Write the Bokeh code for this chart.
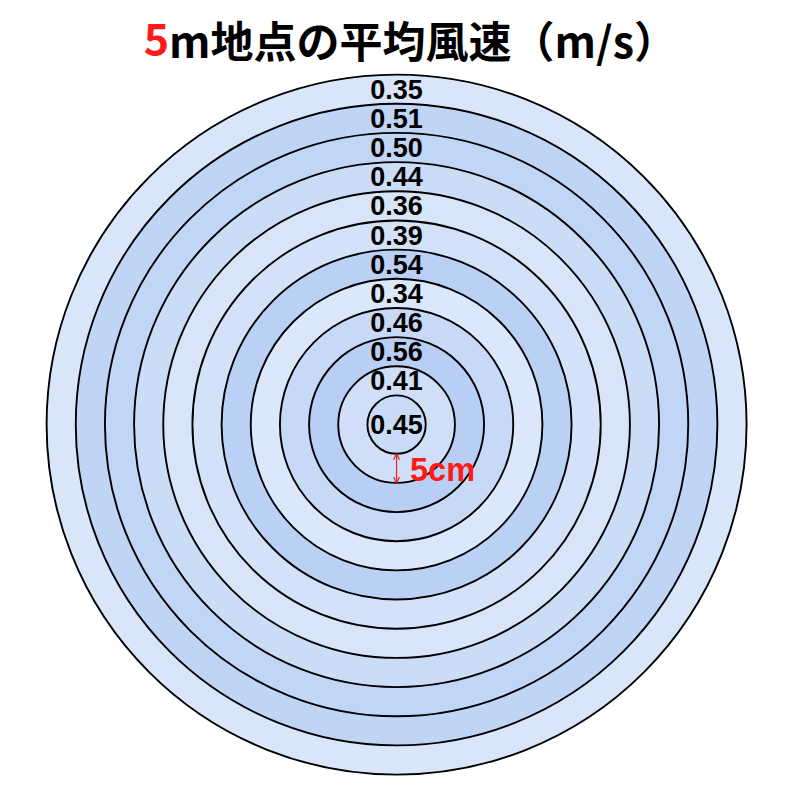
import numpy as np
from bokeh.plotting import figure
from bokeh.models import ColumnDataSource, Range1d, Arrow, OpenHead, LinearColorMapper
from bokeh.core.properties import value
from bokeh.embed import file_html
from bokeh.resources import INLINE

# Data: ring index (1 = centre) and mean wind speed (m/s)
ring_index = [1, 2, 3, 4, 5, 6, 7, 8, 9, 10, 11, 12]
wind_speed = [0.45, 0.41, 0.56, 0.46, 0.34, 0.54, 0.39, 0.36, 0.44, 0.50, 0.51, 0.35]
labels = ["0.45", "0.41", "0.56", "0.46", "0.34", "0.54", "0.39", "0.36", "0.44", "0.50", "0.51", "0.35"]
ring_width_cm = 5
title_red = "5"
title_rest = "m地点の平均風速（m/s）"
scale_label = "5cm"

k = np.array(ring_index)
radius = k * ring_width_cm
label_y = np.where(k == 1, 0.0, (k - 0.5) * ring_width_cm)

order = np.argsort(-radius)
src = ColumnDataSource(dict(
    r=radius[order],
    v=np.array(wind_speed)[order],
))
lab = ColumnDataSource(dict(y=label_y, t=labels, x=np.zeros(len(labels))))

light = np.array([219, 231, 250])
dark = np.array([184, 206, 244])
palette = ["#%02x%02x%02x" % tuple(np.round(light + (dark - light) * t).astype(int)) for t in np.linspace(0, 1, 256)]
mapper = LinearColorMapper(palette=palette, low=min(wind_speed), high=max(wind_speed))

p = figure(width=784, height=784, output_backend="svg", toolbar_location=None,
           x_range=Range1d(-67.9, 66.5), y_range=Range1d(-61.7, 72.7),
           min_border=0)
p.axis.visible = False
p.grid.visible = False
p.outline_line_color = None
p.background_fill_color = "white"

p.circle(x=0, y=0, radius="r", source=src,
         fill_color={"field": "v", "transform": mapper},
         line_color="black", line_width=1.9)

p.text(x="x", y="y", text="t", source=lab, text_align="center", text_baseline="middle",
       text_font=value("Liberation Sans"), text_font_style="bold",
       text_font_size="27px", text_color="black")

# title
tx = -39.0
ty = 66.1
p.text(x=[tx], y=[ty], text=[title_red], text_align="right", text_baseline="middle",
       text_font=value("Noto Sans CJK JP"), text_font_style="bold",
       text_font_size="43px", text_color="#ff1a1a")
p.text(x=[tx], y=[ty], text=[title_rest], text_align="left", text_baseline="middle",
       text_font=value("Noto Sans CJK JP"), text_font_style="bold",
       text_font_size="43px", text_color="black")

# scale arrow
p.add_layout(Arrow(x_start=0, y_start=-ring_width_cm, x_end=0, y_end=-2 * ring_width_cm,
                   line_color="#ee2222", line_width=1.2,
                   start=OpenHead(size=6, line_color="#ee2222", line_width=1.2),
                   end=OpenHead(size=6, line_color="#ee2222", line_width=1.2)))
p.text(x=[2.3], y=[-1.55 * ring_width_cm], text=[scale_label], text_align="left", text_baseline="middle",
       text_font=value("Liberation Sans"), text_font_style="bold",
       text_font_size="32.5px", text_color="#ff1a1a")

open("out.html", "w").write(file_html(p, INLINE))
